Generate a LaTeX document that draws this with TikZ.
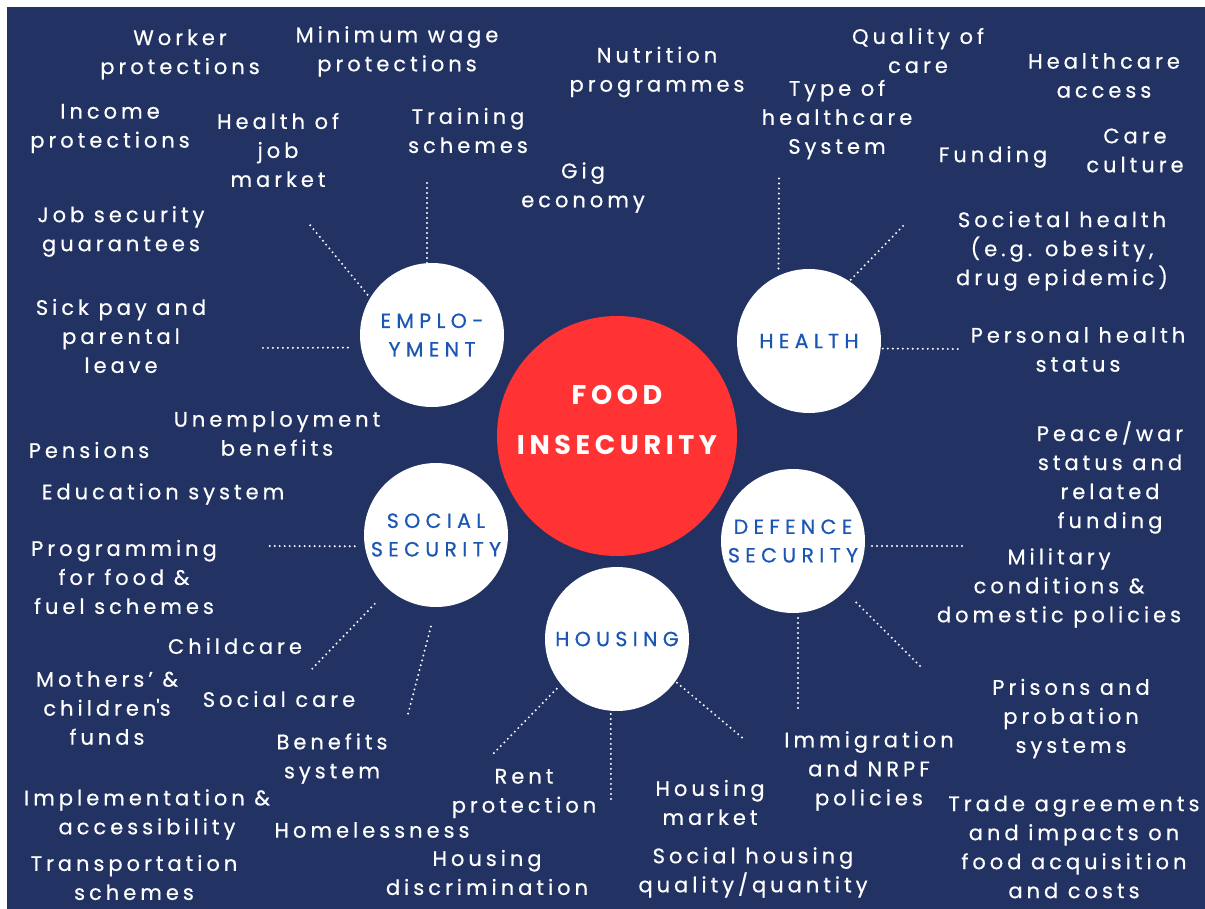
\documentclass[tikz,border=0pt]{standalone}
\usepackage{fontspec}
\setmainfont{Poppins}[LetterSpace=19, FakeBold=0.5]
\newfontfamily\circfont{Poppins}[LetterSpace=26, FakeBold=0.6]
\newfontfamily\foodfont{Poppins}[LetterSpace=17]
\newcommand{\sq}{{\addfontfeature{Ligatures=TeXOff}'}}
\definecolor{navy}{HTML}{223363}
\definecolor{fired}{HTML}{FF3333}
\definecolor{cblue}{HTML}{1A56B4}
\begin{document}
\begin{tikzpicture}[x=1pt,y=-1pt,
  lbl/.style={text=white, align=center, inner sep=0pt, font=\fontsize{21}{29}\selectfont},
  cat/.style={circle, fill=white, minimum size=144pt, inner sep=0pt, text=cblue, align=center, font=\circfont\fontsize{20.5}{28.5}\selectfont},
  foodc/.style={circle, fill=fired, minimum size=240pt, inner sep=0pt},
  foodt/.style={text=white, align=center, inner sep=0pt, font=\foodfont\bfseries\fontsize{27}{50}\selectfont},
  dotline/.style={draw=white, line width=2.2pt, line cap=round, dash pattern=on 0pt off 5pt}]
\useasboundingbox (0,0) rectangle (1205,909);
\fill[white] (0,0) rectangle (1205,909);
\fill[navy] (7,7) rectangle (1205,909);

% circles
\node[foodc] (food) at (617,436) {};
\node[foodt] (foodtxt) at (617,420) {FOOD\\INSECURITY};
\node[cat] (emp) at (432,335) {EMPLO-\\YMENT};
\node[cat] (hl) at (809,341) {HEALTH};
\node[cat] (ss) at (436,535) {SOCIAL\\SECURITY};
\node[cat] (hs) at (617,639) {HOUSING};
\node[cat] (def) at (793,541) {DEFENCE\\SECURITY};

% free ends of the connectors
\coordinate (e1) at (427,178);
\coordinate (e2) at (310,225);
\coordinate (e3) at (258,348);
\coordinate (h1e) at (779,177);
\coordinate (h2e) at (904,225);
\coordinate (h3e) at (958,349);
\coordinate (d1e) at (963,546);
\coordinate (d2e) at (920,666);
\coordinate (d3e) at (798,710);
\coordinate (o1e) at (492,755);
\coordinate (o2e) at (611,800);
\coordinate (o3e) at (745,740);
\coordinate (s1e) at (265,546);
\coordinate (s2e) at (311,670);
\coordinate (s3e) at (408,714);

% connectors
\draw[dotline] (emp.94) -- (e1);
\draw[dotline, shorten <=4pt] (emp.149) -- (e2);
\draw[dotline, shorten <=13pt] (emp.190) -- (e3);
\draw[dotline, shorten <=7pt] (hl.115) -- (h1e);
\draw[dotline, shorten <=2pt] (hl.56) -- (h2e);
\draw[dotline, shorten <=2pt] (hl.-6) -- (h3e);
\draw[dotline, shorten <=7pt] (def.-4) -- (d1e);
\draw[dotline, shorten <=16pt] (def.-44) -- (d2e);
\draw[dotline, shorten <=5pt] (def.-86) -- (d3e);
\draw[dotline, shorten <=6pt] (hs.219) -- (o1e);
\draw[dotline, shorten <=3pt] (hs.265) -- (o2e);
\draw[dotline, shorten <=2pt] (hs.-36) -- (o3e);
\draw[dotline, shorten <=10pt] (ss.189) -- (s1e);
\draw[dotline, shorten <=20pt] (ss.229) -- (s2e);
\draw[dotline, shorten <=20pt] (ss.270) -- (s3e);

% employment labels
\node[lbl] (w1) at (180,54.5) {Worker\\protections};
\node[lbl] (w2) at (397,51.5) {Minimum wage\\protections};
\node[lbl] (w3) at (110,128.5) {Income\\protections};
\node[lbl] (w4) at (278,150) {Health of\\job\\market};
\node[lbl] (w5) at (468,130.5) {Training\\schemes};
\node[lbl] (w6) at (121,231.5) {Job security\\guarantees};
\node[lbl] (w7) at (121,336) {Sick pay and\\parental\\leave};
\node[lbl] (w8) at (277,433.5) {Unemployment\\benefits};
\node[lbl] (w9) at (583,187.5) {Gig\\economy};
\node[lbl] (w10) at (657,72) {Nutrition\\programmes};
% health labels
\node[lbl] (h1) at (918,50.5) {Quality of\\care};
\node[lbl] (h2) at (1104,75.5) {Healthcare\\access};
\node[lbl] (h3) at (837,119.5) {Type of\\healthcare\\System};
\node[lbl] (h4) at (993,157) {Funding};
\node[lbl] (h5) at (1135,150.5) {Care\\culture};
\node[lbl] (h6) at (1062,251) {Societal health\\(e.g. obesity,\\drug epidemic)};
\node[lbl] (h7) at (1078,349.5) {Personal health\\status};
% defence labels
\node[lbl] (d1) at (1110,477.5) {Peace/war\\status and\\related\\funding};
\node[lbl] (d2) at (1059,588) {Military\\conditions \&\\domestic policies};
\node[lbl] (d3) at (1071,718.5) {Prisons and\\probation\\systems};
\node[lbl] (d4) at (1074,847) {Trade agreements\\and impacts on\\food acquisition\\and costs};
\node[lbl] (d5) at (869,771) {Immigration\\and NRPF\\policies};
% housing labels
\node[lbl] (o1) at (524,793.5) {Rent\\protection};
\node[lbl] (o2) at (710,802.5) {Housing\\market};
\node[lbl] (o3) at (753,872.5) {Social housing\\quality/quantity};
\node[lbl] (o4) at (487,872.5) {Housing\\discrimination};
\node[lbl] (o5) at (372,830) {Homelessness};
% social security labels
\node[lbl] (s1) at (89,450) {Pensions};
\node[lbl] (s2) at (163,494) {Education system};
\node[lbl] (s3) at (124,577) {Programming\\for food \&\\fuel schemes};
\node[lbl] (s4) at (235,646) {Childcare};
\node[lbl] (s5) at (107,708) {Mothers’ \&\\children\sq s\\funds};
\node[lbl] (s6) at (279,699) {Social care};
\node[lbl] (s7) at (332,758.5) {Benefits\\system};
\node[lbl] (s8) at (147,814.5) {Implementation \&\\accessibility};
\node[lbl] (s9) at (134,877.5) {Transportation\\schemes};
\end{tikzpicture}
\end{document}
